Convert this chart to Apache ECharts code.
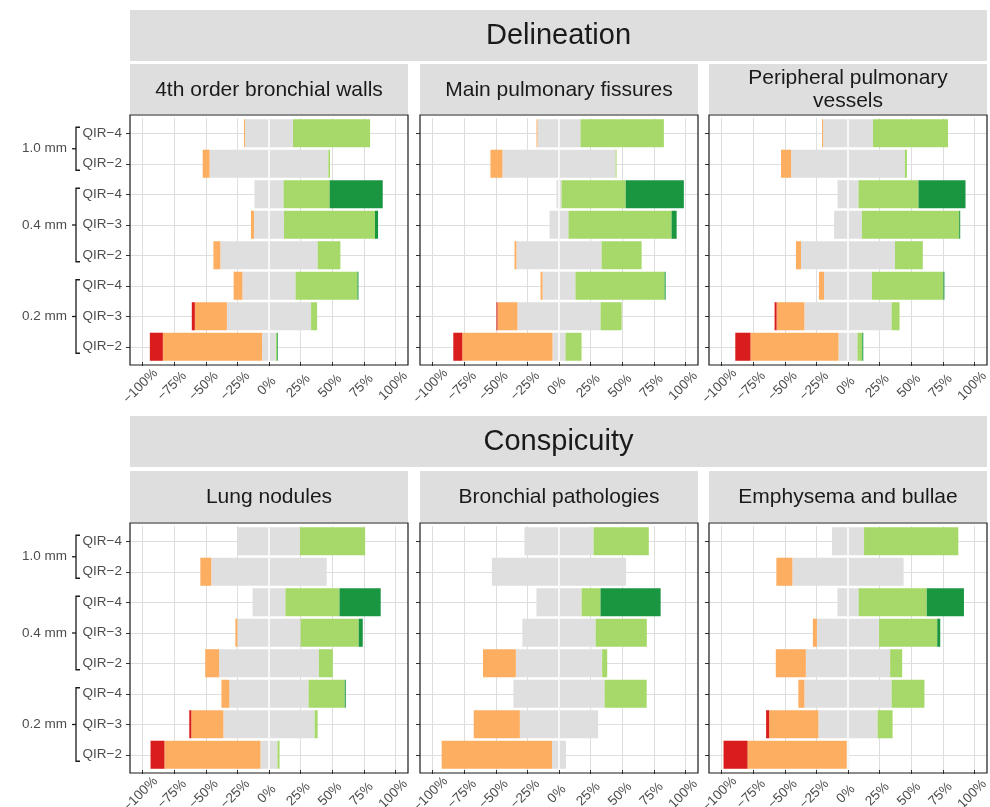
<!DOCTYPE html>
<html>
<head>
<meta charset="utf-8">
<script src="https://cdn.jsdelivr.net/npm/echarts@6/dist/echarts.min.js"></script>
<style>
html, body { margin: 0; padding: 0; background: #fff; }
#chart { width: 990px; height: 807px; }
</style>
</head>
<body>
<div id="chart"></div>
<script>
var sections = ['Delineation', 'Conspicuity'];
var panelTitles = ['4th order bronchial walls', 'Main pulmonary fissures', 'Peripheral pulmonary\nvessels',
                   'Lung nodules', 'Bronchial pathologies', 'Emphysema and bullae'];
var rowLabels = ['QIR\u22124', 'QIR\u22122', 'QIR\u22124', 'QIR\u22123', 'QIR\u22122', 'QIR\u22124', 'QIR\u22123', 'QIR\u22122'];
var sliceGroups = [['1.0 mm', 0, 1], ['0.4 mm', 2, 4], ['0.2 mm', 5, 7]];
var xTicks = [-100, -75, -50, -25, 0, 25, 50, 75, 100];
var levelColors = ['#D91C1C', '#FDAE61', '#DFDFDF', '#A6D96A', '#1A9641'];

// rows of each panel: [very poor, poor, neutral, good, very good] in %, one value per QIR row (top to bottom)
var bronchialWalls = [
  [0, 0, 0, 0, 0, 0, 2.4, 10.3],
  [0.8, 5.5, 0, 2.4, 5.5, 7, 25.4, 78.5],
  [38, 94, 23, 23.8, 77, 42, 66.6, 11],
  [61, 1.3, 36.5, 72, 18, 49, 4.8, 0.8],
  [0, 0, 42, 2.4, 0, 0.8, 0, 0.6]
];
var pulmonaryFissures = [
  [0, 0, 0, 0, 0, 0, 0.8, 7.1],
  [0.8, 9.5, 0, 0, 1.5, 1.6, 15.8, 71.4],
  [34, 89.5, 4, 15, 67.4, 26, 65.8, 10.3],
  [66, 0.8, 50.8, 81.6, 31.7, 70.6, 16.7, 12.7],
  [0, 0, 46, 4, 0, 0.8, 0, 0]
];
var pulmonaryVessels = [
  [0, 0, 0, 0, 0, 0, 1.6, 12],
  [0.8, 8, 0, 0, 4, 4, 22, 69.7],
  [39.5, 90, 16.6, 22, 74.4, 38, 69, 15],
  [59.4, 1.6, 47.5, 77, 22, 56.5, 6.3, 3.8],
  [0, 0, 37.2, 0.8, 0, 0.8, 0, 0.8]
];
var lungNodules = [
  [0, 0, 0, 0, 0, 0, 1.6, 11],
  [0, 8.7, 0, 1.6, 11, 6.3, 25.4, 76],
  [49, 91.3, 26, 50, 79, 62.7, 72.2, 13.5],
  [51.6, 0, 42.8, 46, 11, 28.6, 2.4, 1.6],
  [0, 0, 32.6, 3.2, 0, 0.8, 0, 0]
];
var bronchialPathologies = [
  [0, 0, 0, 0, 0, 0, 0, 0],
  [0, 0, 0, 0, 26, 0, 36.5, 87.3],
  [54.7, 106.3, 35.7, 58, 68.3, 72.2, 62, 11.1],
  [43.7, 0, 15, 40.5, 4, 33.3, 0, 0],
  [0, 0, 47.6, 0, 0, 0, 0, 0]
];
var emphysemaBullae = [
  [0, 0, 0, 0, 0, 0, 2.4, 19],
  [0, 12.7, 0, 3.2, 23.8, 4.8, 39, 78.5],
  [25.4, 88, 16.7, 49.2, 66.7, 69, 46.8, 2],
  [74.6, 0, 54, 46, 9.5, 26, 11.9, 0],
  [0, 0, 29.4, 2.4, 0, 0, 0, 0]
];
var panelData = [bronchialWalls, pulmonaryFissures, pulmonaryVessels, lungNodules, bronchialPathologies, emphysemaBullae];

var FONT = '"Liberation Sans", Arial, Helvetica, sans-serif';
var panelLeft = [130, 420, 709];
var panelWidth = 278;
var panelTop = [115, 523];
var panelHeight = 250;
var headerTop = [10, 416];
var stripTop = [64, 471];
var inset = 3;
var rowIds = rowLabels.map(function (l, i) { return 'r' + i; });

var chart = echarts.init(document.getElementById('chart'), null, { renderer: 'canvas' });

function nz(v) { return v === 0 ? null : v; }

var grids = [], xAxes = [], yAxes = [], series = [];
panelData.forEach(function (d, p) {
  var r = Math.floor(p / 3), c = p % 3;
  grids.push({
    left: panelLeft[c], top: panelTop[r] + inset,
    width: panelWidth, height: panelHeight - 2 * inset,
    containLabel: false, outerBoundsMode: 'none'
  });
  xAxes.push({
    type: 'value', gridIndex: p, min: -110, max: 110,
    axisLine: { show: false, onZero: false },
    axisTick: { show: true, customValues: xTicks, length: 4, lineStyle: { color: '#333', width: 1 } },
    axisLabel: {
      customValues: xTicks, rotate: 45, align: 'center', verticalAlign: 'middle', margin: 22,
      padding: [0, 6, 0, 0],
      color: '#4D4D4D', fontSize: 13.5, fontFamily: FONT,
      formatter: function (v) { return (v < 0 ? '\u2212' + (-v) : v) + '%'; }
    },
    splitLine: { show: false }
  });
  yAxes.push({
    type: 'category', gridIndex: p, data: rowIds, inverse: true,
    axisLine: { show: false, onZero: false },
    axisTick: { show: true, alignWithLabel: true, length: 4, lineStyle: { color: '#333', width: 1 } },
    axisLabel: {
      show: c === 0, margin: 8, color: '#4D4D4D', fontSize: 13.5, fontFamily: FONT,
      formatter: function (v, i) { return rowLabels[i]; }
    },
    splitLine: { show: true, alignWithLabel: true, lineStyle: { color: '#DEDEDE', width: 1 } }
  });
  var parts = [
    { data: d[2].map(function (v) { return nz(-v / 2); }), color: levelColors[2] },
    { data: d[1].map(function (v) { return nz(-v); }), color: levelColors[1] },
    { data: d[0].map(function (v) { return nz(-v); }), color: levelColors[0] },
    { data: d[2].map(function (v) { return nz(v / 2); }), color: levelColors[2] },
    { data: d[3].map(nz), color: levelColors[3] },
    { data: d[4].map(nz), color: levelColors[4] }
  ];
  parts.forEach(function (s, k) {
    var ser = {
      type: 'bar', xAxisIndex: p, yAxisIndex: p, stack: 'panel' + p,
      data: s.data, barCategoryGap: '8%', silent: true,
      itemStyle: { color: s.color },
      emphasis: { disabled: true }
    };
    if (k === 0) {
      // vertical grid lines at the percentage ticks, under the bars
      ser.markLine = {
        silent: true, z: 1, symbol: ['none', 'none'], label: { show: false },
        lineStyle: { color: '#DEDEDE', width: 1, type: 'solid' },
        emphasis: { disabled: true },
        data: xTicks.map(function (v) { return { xAxis: v }; })
      };
    }
    if (k === parts.length - 1) {
      ser.markLine = {
        silent: true, symbol: ['none', 'none'], label: { show: false },
        lineStyle: { color: '#FFFFFF', width: 1.5, type: 'solid' },
        emphasis: { disabled: true },
        data: [{ xAxis: 0 }]
      };
    }
    series.push(ser);
  });
});

chart.setOption({
  animation: false,
  grid: grids, xAxis: xAxes, yAxis: yAxes, series: series
});

// strips, panel frames and the slice-thickness brackets
var g = [];
sections.forEach(function (name, r) {
  var x0 = panelLeft[0], x1 = panelLeft[2] + panelWidth;
  g.push({ type: 'rect', shape: { x: x0, y: headerTop[r], width: x1 - x0, height: 51 }, style: { fill: '#DEDEDE' }, silent: true });
  g.push({ type: 'text', x: (x0 + x1) / 2, y: headerTop[r] + 26, silent: true,
    style: { text: name, fill: '#1A1A1A', fontSize: 29, fontFamily: FONT,
      align: 'center', verticalAlign: 'middle', textAlign: 'center', textVerticalAlign: 'middle' } });
  for (var c = 0; c < 3; c++) {
    var p = r * 3 + c;
    var sh = panelTop[r] - stripTop[r] - 1;
    g.push({ type: 'rect', shape: { x: panelLeft[c], y: stripTop[r], width: panelWidth, height: sh }, style: { fill: '#DEDEDE' }, silent: true });
    g.push({ type: 'text', x: panelLeft[c] + panelWidth / 2, y: stripTop[r] + sh / 2 + 1, silent: true,
      style: { text: panelTitles[p], fill: '#1A1A1A', fontSize: 21, lineHeight: 23, fontFamily: FONT,
        align: 'center', verticalAlign: 'middle', textAlign: 'center', textVerticalAlign: 'middle' } });
    g.push({ type: 'rect', z: 100, silent: true,
      shape: { x: panelLeft[c], y: panelTop[r], width: panelWidth, height: panelHeight },
      style: { fill: null, stroke: '#1A1A1A', lineWidth: 1.2 } });
  }
  var bx = panelLeft[0] - 54;
  sliceGroups.forEach(function (grp) {
    var y0 = chart.convertToPixel({ yAxisIndex: r * 3 }, rowIds[grp[1]]) - 6;
    var y1 = chart.convertToPixel({ yAxisIndex: r * 3 }, rowIds[grp[2]]) + 6.5;
    var ym = (y0 + y1) / 2;
    g.push({ type: 'polyline', silent: true, shape: { points: [[bx + 4, y0], [bx, y0], [bx, y1], [bx + 4, y1]] },
      style: { stroke: '#1A1A1A', lineWidth: 1.3, fill: null } });
    g.push({ type: 'line', silent: true, shape: { x1: bx - 4, y1: ym, x2: bx, y2: ym },
      style: { stroke: '#1A1A1A', lineWidth: 1.3 } });
    g.push({ type: 'text', x: bx - 9, y: ym, silent: true,
      style: { text: grp[0], fill: '#4D4D4D', fontSize: 13.5, fontFamily: FONT,
        align: 'right', verticalAlign: 'middle', textAlign: 'right', textVerticalAlign: 'middle' } });
  });
});
chart.setOption({ graphic: { elements: g } });
</script>
</body>
</html>
